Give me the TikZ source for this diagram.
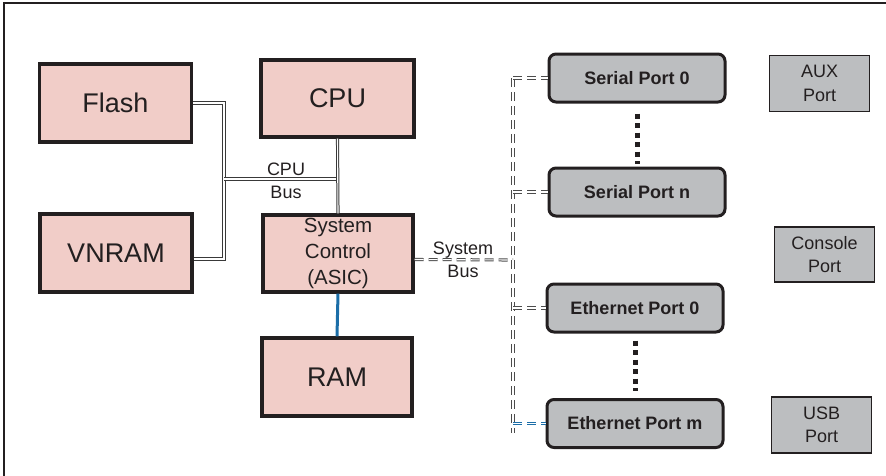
\documentclass[tikz,border=0pt]{standalone}
\usepackage{fontspec}
\setmainfont{Liberation Sans}
\usetikzlibrary{calc}
\definecolor{pinkfill}{HTML}{F1CDC8}
\definecolor{portfill}{HTML}{BCBEC0}
\definecolor{ink}{HTML}{231F20}
\definecolor{busblue}{HTML}{1C6EA8}
\tikzset{
  bigbox/.style={draw=ink, line width=3.2pt, fill=pinkfill, text=ink, inner sep=0pt,
    font=\fontsize{27}{30}\selectfont},
  portbox/.style={draw=ink, line width=3pt, fill=portfill, rounded corners=7pt, text=ink,
    inner sep=0pt, minimum width=176pt, minimum height=48pt,
    font=\fontsize{18}{22}\selectfont\bfseries},
  sidebox/.style={draw=ink, line width=1.1pt, fill=portfill, text=ink, inner sep=0pt,
    align=center, minimum width=100pt, minimum height=56pt,
    font=\fontsize{18}{23.5}\selectfont},
  lbl/.style={text=ink, align=center, inner sep=0pt, font=\fontsize{18}{23}\selectfont},
  dbus/.style={draw=gray!45!black, line width=1pt, double=white, double distance=1.1pt},
  sbus/.style={draw=gray!60!black, line width=1pt, double=white, double distance=1.1pt,
    dash pattern=on 9pt off 5pt},
  bbus/.style={draw=busblue, line width=1pt, double=white, double distance=1.1pt,
    dash pattern=on 9pt off 5pt},
  dotcol/.style={draw=ink, line width=5pt, dash pattern=on 5pt off 4.5pt},
}
\begin{document}
\begin{tikzpicture}[x=1pt,y=-1pt]
\useasboundingbox (0,0) rectangle (886,475);
% outer frame (only top and left edges fall inside)
\coordinate (fTL) at (4,3);
\coordinate (fTR) at (890,3);
\coordinate (fBL) at (4,480);
\draw[ink, line width=2.4pt] (fTR) -- (fTL) -- (fBL);

% memory / CPU blocks
\node[bigbox, minimum width=152pt, minimum height=78pt] (Flash) at (115.5,103) {Flash};
\node[bigbox, minimum width=152pt, minimum height=78pt] (VNRAM) at (116,253) {VNRAM};
\node[bigbox, minimum width=153pt, minimum height=77pt] (CPU) at (337.5,98.5) {CPU};
\node[bigbox, minimum width=150pt, minimum height=77pt, align=center,
      font=\fontsize{20.5}{26}\selectfont] (SC) at (338,253.5) {System\\Control\\(ASIC)};
\node[bigbox, minimum width=150pt, minimum height=78pt] (RAM) at (337,377) {RAM};

% ports
\node[portbox] (SP0) at (637,78) {Serial Port 0};
\node[portbox] (SPn) at (637,192) {Serial Port n};
\node[portbox] (EP0) at (635,308) {Ethernet Port 0};
\node[portbox] (EPm) at (635,423.5) {Ethernet Port m};

\node[sidebox] (AUX) at (819.5,83.5) {AUX\\Port};
\node[sidebox, minimum height=55pt] (CON) at (824.5,254.5) {Console\\Port};
\node[sidebox] (USB) at (821.5,425) {USB\\Port};

% CPU bus
\coordinate (jx) at (224,179);
\draw[dbus] (Flash.east) -| (jx);
\draw[dbus] ([yshift=-6pt]VNRAM.east) -| (jx);
\draw[dbus] (jx) -- (jx -| CPU.south);
\draw[dbus] (CPU.south) -- (SC.north);
\node[lbl] (cpubus) at (286,180.5) {CPU\\Bus};

% RAM link
\draw[busblue, line width=3pt] (SC.south) -- (RAM.north);

% system bus
\coordinate (bx) at (513,260);
\coordinate (bend) at (513,433);
\draw[sbus] ([yshift=-6pt]SC.east) -- (bx);
\node[lbl] (sysbus) at (463,260) {System\\Bus};
\draw[sbus] (bx |- SP0.west) -- (bend);
\draw[sbus] (bx |- SP0.west) -- (SP0.west);
\draw[sbus] (bx |- SPn.west) -- (SPn.west);
\draw[sbus] (bx |- EP0.west) -- (EP0.west);
\draw[bbus] (bx |- EPm.west) -- (EPm.west);

% continuation dots
\draw[dotcol, shorten <=10pt, shorten >=3pt] (SP0.south) -- (SPn.north);
\draw[dotcol, shorten <=7pt, shorten >=7pt] (EP0.south) -- (EPm.north);
\end{tikzpicture}
\end{document}
